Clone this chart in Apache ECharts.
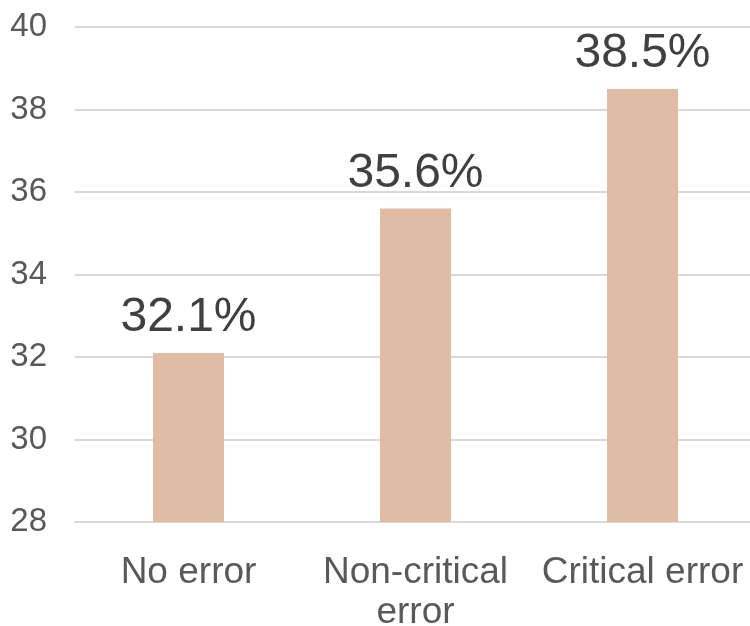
<!DOCTYPE html>
<html>
<head>
<meta charset="utf-8">
<script src="https://cdn.jsdelivr.net/npm/echarts@6/dist/echarts.min.js"></script>
<style>
  html, body { margin: 0; padding: 0; background: #fff; }
  #chart { width: 750px; height: 626px; }
</style>
</head>
<body>
<div id="chart"></div>
<script>
// data
const categories = ['No error', 'Non-critical\nerror', 'Critical error'];
const values = [32.1, 35.6, 38.5];
const yMin = 28, yMax = 40, yStep = 2;

const chart = echarts.init(document.getElementById('chart'));

chart.setOption({
    animation: false,
    grid: {
        left: 75, top: 27, width: 681, height: 495,
        containLabel: false,
        outerBoundsMode: 'none'
    },
    xAxis: {
        type: 'category',
        data: categories,
        axisLine: { lineStyle: { color: '#d9d9d9', width: 2 } },
        axisTick: { show: false },
        axisLabel: {
            color: '#595959',
            fontFamily: 'Liberation Sans, Arial, sans-serif',
            fontSize: 37,
            lineHeight: 40,
            margin: 31,
            interval: 0
        }
    },
    yAxis: {
        type: 'value',
        min: yMin,
        max: yMax,
        interval: yStep,
        axisLine: { show: false },
        axisTick: { show: false },
        splitLine: { lineStyle: { color: '#d9d9d9', width: 2 } },
        axisLabel: {
            color: '#595959',
            fontFamily: 'Liberation Sans, Arial, sans-serif',
            fontSize: 33,
            margin: 28
        }
    },
    series: [{
        type: 'bar',
        data: values,
        barWidth: 71,
        itemStyle: { color: '#e1bca5' },
        label: {
            show: true,
            position: 'top',
            distance: 11,
            formatter: p => p.value.toFixed(1) + '%',
            color: '#404040',
            fontFamily: 'Liberation Sans, Arial, sans-serif',
            fontSize: 48
        }
    }]
});
</script>
</body>
</html>
